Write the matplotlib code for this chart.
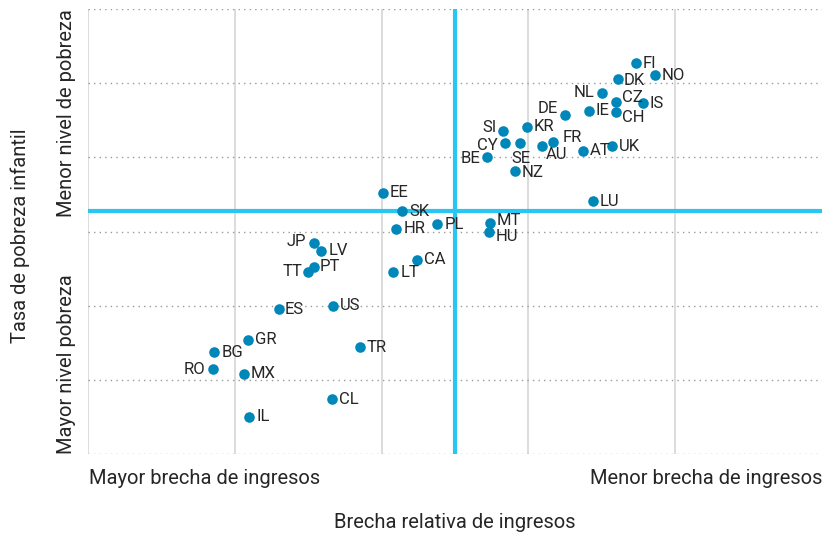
import matplotlib.pyplot as plt

plt.rcParams['font.family'] = ['Roboto', 'DejaVu Sans']

# relative income gap (x, higher = smaller gap) vs child poverty (y, higher = less poverty)
countries = ["FI", "NO", "DK", "NL", "CZ", "IS", "IE", "CH", "DE", "SI",
             "KR", "CY", "SE", "AU", "FR", "AT", "UK", "BE", "NZ", "LU",
             "EE", "SK", "HR", "PL", "MT", "HU", "JP", "LV", "PT", "TT",
             "CA", "LT", "ES", "US", "GR", "BG", "TR", "RO", "MX", "CL", "IL"]
income_gap = [3.73, 3.86, 3.61, 3.50, 3.60, 3.78, 3.41, 3.60, 3.25, 2.83,
              2.99, 2.84, 2.94, 3.09, 3.17, 3.37, 3.57, 2.72, 2.91, 3.44,
              2.01, 2.14, 2.10, 2.38, 2.74, 2.73, 1.54, 1.59, 1.54, 1.50,
              2.24, 2.08, 1.30, 1.67, 1.09, 0.86, 1.85, 0.85, 1.06, 1.66, 1.10]
child_poverty = [5.27, 5.11, 5.05, 4.87, 4.75, 4.73, 4.63, 4.61, 4.57, 4.35,
                 4.41, 4.19, 4.19, 4.15, 4.21, 4.09, 4.15, 4.00, 3.82, 3.41,
                 3.52, 3.27, 3.04, 3.10, 3.11, 3.00, 2.84, 2.74, 2.52, 2.46,
                 2.62, 2.45, 1.96, 2.00, 1.54, 1.37, 1.44, 1.142, 1.08, 0.74, 0.50]

# label offsets in pixels (dx, dy) and alignment
label_pos = {
    "NL": (-7, 0, "right"), "DE": (-7, 7, "right"), "SI": (-7, 4, "right"),
    "CY": (-7, -2, "right"), "BE": (-7, -1, "right"), "JP": (-8, 2, "right"),
    "TT": (-6, 0, "right"), "RO": (-7, 0, "right"),
    "SE": (1, -15, "center"), "AU": (4, -8, "left"), "FR": (9, 4, "left"),
    "CZ": (6, 4, "left"), "CH": (6, -5, "left"), "DK": (6, -1, "left"),
    "MT": (6, 3, "left"), "HU": (7, -5, "left"), "NZ": (6, -2, "left"),
    "PT": (6, 1, "left"), "ES": (6, -1, "left"),
}

dot_color = "#0087b9"
cyan = "#29c6f1"
text_color = "#262626"

fig = plt.figure(figsize=(8.23, 5.38), dpi=100)
ax = fig.add_axes([88 / 823, (538 - 454) / 538, (822 - 88) / 823, (454 - 9) / 538])

ax.set_xlim(0, 5)
ax.set_ylim(0, 6)
for xv in range(0, 5):
    ax.axvline(xv, color="#d6d6d6", lw=1.2, zorder=1)
for yv in range(0, 7):
    ax.axhline(yv, color="#9a9a9a", lw=1.0, ls=(0, (1, 3)), zorder=1)

ax.axvline(2.5, color=cyan, lw=3, zorder=2)
ax.axhline(3.28, color=cyan, lw=3, zorder=2)

ax.scatter(income_gap, child_poverty, s=58, color=dot_color, zorder=3,
           linewidths=0)

for name, xv, yv in zip(countries, income_gap, child_poverty):
    dx, dy, ha = label_pos.get(name, (7, 0, "left"))
    ax.annotate(name, (xv, yv), xytext=(dx, dy), textcoords="offset pixels",
                ha=ha, va="center", fontsize=12, color=text_color, zorder=4)

for side in ax.spines.values():
    side.set_visible(False)
ax.set_xticks([])
ax.set_yticks([])

fs = 14.5
fig.text(89 / 823, 1 - 478 / 538, "Mayor brecha de ingresos", ha="left",
         va="center", fontsize=fs, color=text_color)
fig.text(822 / 823, 1 - 478 / 538, "Menor brecha de ingresos", ha="right",
         va="center", fontsize=fs, color=text_color)
fig.text(455 / 823, 1 - 522 / 538, "Brecha relativa de ingresos", ha="center",
         va="center", fontsize=fs, color=text_color)
fig.text(20 / 823, 1 - 236 / 538, "Tasa de pobreza infantil", ha="center",
         va="center", rotation=90, fontsize=fs, color=text_color)
fig.text(66 / 823, 1 - 9 / 538, "Menor nivel de pobreza", ha="center",
         va="top", rotation=90, fontsize=fs, color=text_color)
fig.text(66 / 823, 1 - 454 / 538, "Mayor nivel pobreza", ha="center",
         va="bottom", rotation=90, fontsize=fs, color=text_color)

fig.savefig("out.png", dpi=100)
